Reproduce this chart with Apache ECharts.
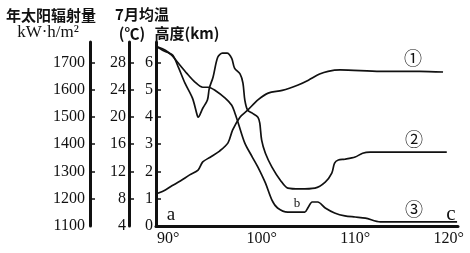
<!DOCTYPE html>
<html>
<head>
<meta charset="utf-8">
<script src="https://cdn.jsdelivr.net/npm/echarts@6/dist/echarts.min.js"></script>
<style>html,body{margin:0;padding:0;background:#fff;}#c{width:470px;height:253px;}</style>
</head>
<body>
<div id="c"></div>
<script>
// ① 7月均温 (℃)
var lon1 = [88.9, 89.7, 90.4, 91.3, 92.3, 93.2, 93.7, 94.5, 95.5, 96.4, 96.9, 97.7, 98.5, 99.6, 100.7, 102.2, 103.9, 105.0, 106.2, 107.1, 108.4, 112.7, 116.9, 119.4];
var temp1 = [8.8, 9.3, 9.9, 10.6, 11.5, 12.2, 13.4, 14.1, 15.0, 16.2, 18.1, 20.0, 21.0, 22.5, 23.5, 23.9, 24.7, 25.4, 26.3, 26.7, 26.9, 26.7, 26.7, 26.6];
// ② 年太阳辐射量 (kW·h/m²)
var lon2 = [88.9, 89.4, 89.9, 90.5, 91.1, 91.8, 92.6, 93.1, 93.2, 93.7, 94.2, 94.4, 94.8, 95.3, 95.8, 96.3, 96.8, 97.1, 97.7, 98.0, 98.2, 98.5, 99.0, 99.6, 99.8, 100.0, 100.4, 101.1, 102.0, 102.8, 104.1, 105.7, 106.8, 107.5, 107.8, 108.2, 108.9, 110.0, 110.8, 111.6, 119.8];
var rad2 = [1756, 1745, 1737, 1726, 1682, 1624, 1569, 1507, 1499, 1532, 1562, 1605, 1646, 1719, 1734, 1734, 1715, 1679, 1657, 1624, 1562, 1525, 1514, 1499, 1477, 1415, 1367, 1316, 1268, 1239, 1236, 1239, 1261, 1294, 1331, 1342, 1345, 1353, 1367, 1371, 1371];
// ③ 高度 (km)
var lon3 = [88.9, 89.7, 90.4, 91.1, 92.0, 92.9, 93.7, 94.3, 95.0, 96.1, 96.8, 97.1, 97.5, 98.2, 99.0, 99.6, 100.4, 101.1, 101.7, 102.8, 104.6, 105.0, 105.4, 106.0, 106.8, 107.8, 108.9, 110.0, 111.1, 112.7, 120.9];
var elev3 = [6.56, 6.45, 6.26, 5.97, 5.60, 5.27, 5.09, 5.09, 4.98, 4.69, 4.43, 4.18, 3.77, 3.04, 2.53, 2.16, 1.58, 0.95, 0.66, 0.51, 0.51, 0.70, 0.88, 0.88, 0.66, 0.48, 0.37, 0.33, 0.29, 0.15, 0.15];

var xTicks = [90, 100, 110, 120];
var elevTicks = [0, 1, 2, 3, 4, 5, 6];
var tempTicks = [4, 8, 12, 16, 20, 24, 28];
var radTicks = [1100, 1200, 1300, 1400, 1500, 1600, 1700];

function pairs(xs, ys) { return xs.map(function (x, i) { return [x, ys[i]]; }); }

var serif = 'Liberation Serif';
var cjk = 'Noto Sans CJK SC';
var ink = '#111';

function yAx(min, max, offset, labels, margin) {
  return {
    type: 'value', position: 'left', offset: offset, min: min, max: max,
    axisLine: { show: true, lineStyle: { color: ink, width: 3 } },
    axisTick: { show: true, inside: true, length: 5, customValues: labels.slice(1), lineStyle: { color: ink, width: 1.5 } },
    axisLabel: { customValues: labels, margin: margin, color: ink, fontFamily: serif, fontSize: 16, formatter: function (v) { return String(v); } },
    splitLine: { show: false }
  };
}

var chart = echarts.init(document.getElementById('c'), null, { renderer: 'canvas' });
var lineStyle = { color: ink, width: 1.7 };
chart.setOption({
  animation: false,
  backgroundColor: '#fff',
  grid: { left: 156, top: 42, right: 12, bottom: 27 },
  xAxis: {
    type: 'value', min: 88.7, max: 121,
    axisLine: { show: true, lineStyle: { color: ink, width: 3 } },
    axisTick: { show: false },
    axisLabel: { customValues: xTicks, margin: 5, color: ink, fontFamily: serif, fontSize: 16, formatter: function (v) { return v + '°'; } },
    splitLine: { show: false }
  },
  yAxis: [
    yAx(0, 6.75, 0, elevTicks, 3),
    yAx(4, 31, 27, tempTicks, 3),
    yAx(1100, 1775, 66, radTicks, 5)
  ],
  series: [
    { type: 'line', yAxisIndex: 1, data: pairs(lon1, temp1), showSymbol: false, smooth: 0.3, lineStyle: lineStyle },
    { type: 'line', yAxisIndex: 2, data: pairs(lon2, rad2), showSymbol: false, smooth: 0.3, lineStyle: lineStyle },
    { type: 'line', yAxisIndex: 0, data: pairs(lon3, elev3), showSymbol: false, smooth: 0.3, lineStyle: lineStyle }
  ],
  graphic: [
    { type: 'text', x: 51, y: 15, style: { text: '年太阳辐射量', font: 'bold 15px "' + cjk + '"', fill: ink, align: 'center', verticalAlign: 'middle' } },
    { type: 'text', x: 48, y: 33, style: { text: 'kW·h/m²', font: '17px "' + serif + '"', fill: ink, align: 'center', verticalAlign: 'middle' } },
    { type: 'text', x: 142, y: 14, style: { text: '7月均温', font: 'bold 15px "' + cjk + '"', fill: ink, align: 'center', verticalAlign: 'middle' } },
    { type: 'text', x: 132, y: 33, style: { text: '(℃)', font: 'bold 15px "' + cjk + '"', fill: ink, align: 'center', verticalAlign: 'middle' } },
    { type: 'text', x: 187, y: 33, style: { text: '高度(km)', font: 'bold 15px "' + cjk + '"', fill: ink, align: 'center', verticalAlign: 'middle' } },
    { type: 'text', x: 413, y: 58, style: { text: '①', font: '18px "' + cjk + '"', fill: ink, align: 'center', verticalAlign: 'middle' } },
    { type: 'text', x: 414, y: 139, style: { text: '②', font: '18px "' + cjk + '"', fill: ink, align: 'center', verticalAlign: 'middle' } },
    { type: 'text', x: 414, y: 209, style: { text: '③', font: '18px "' + cjk + '"', fill: ink, align: 'center', verticalAlign: 'middle' } },
    { type: 'text', x: 171, y: 215, style: { text: 'a', font: '19px "' + serif + '"', fill: ink, align: 'center', verticalAlign: 'middle' } },
    { type: 'text', x: 297, y: 204, style: { text: 'b', font: '13px "' + serif + '"', fill: ink, align: 'center', verticalAlign: 'middle' } },
    { type: 'text', x: 451, y: 214, style: { text: 'c', font: '21px "' + serif + '"', fill: ink, align: 'center', verticalAlign: 'middle' } }
  ]
});
</script>
</body>
</html>
